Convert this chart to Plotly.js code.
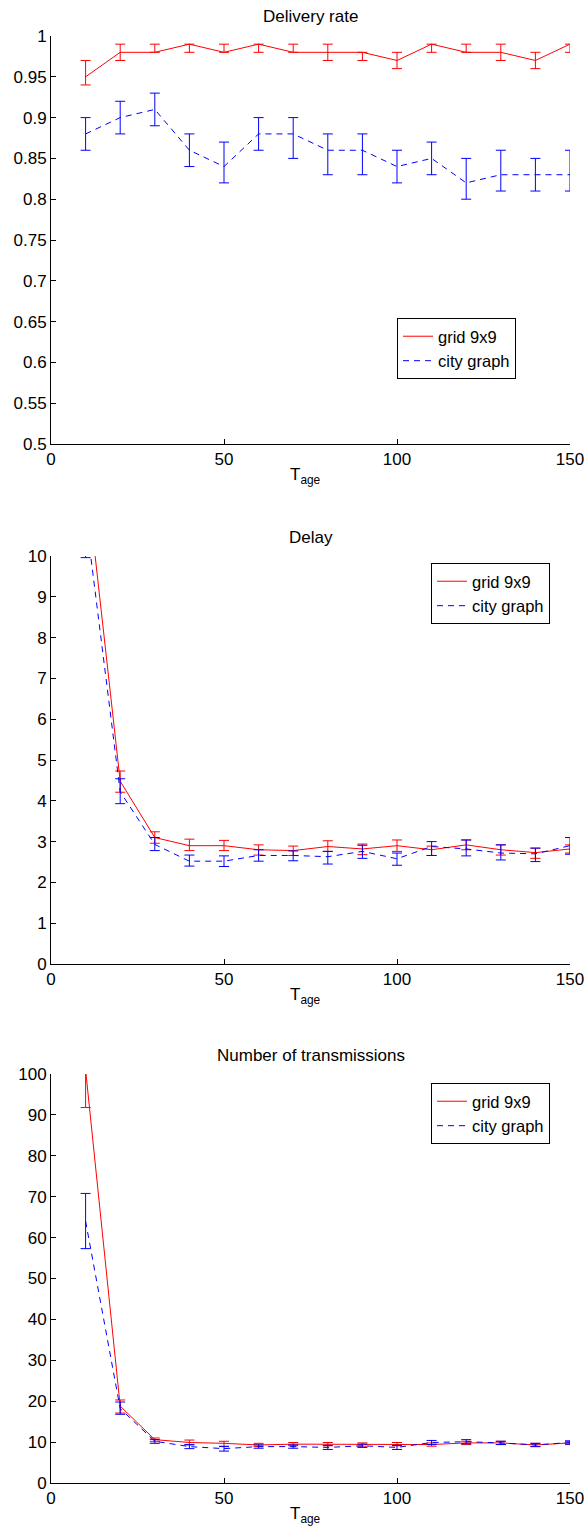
<!DOCTYPE html>
<html>
<head>
<meta charset="utf-8">
<script src="https://cdn.plot.ly/plotly-3.0.1.min.js"></script>
<style>html,body{margin:0;padding:0;background:#fff;}#chart{width:587px;height:1532px;}</style>
</head>
<body>
<div id="chart"></div>
<script>
// ---------- data ----------
const tage = [10,20,30,40,50,60,70,80,90,100,110,120,130,140,150];
const seriesNames = ["grid 9x9", "city graph"];
const panelTitles = ["Delivery rate", "Delay", "Number of transmissions"];
const xLabel = "T<sub>age</sub>";

// Delivery rate
const gridRate   = [0.95,0.98,0.98,0.99,0.98,0.99,0.98,0.98,0.98,0.97,0.99,0.98,0.98,0.97,0.99];
const gridRateHi = [0.97,0.99,0.99,0.99,0.99,0.99,0.99,0.99,0.98,0.98,0.99,0.99,0.99,0.98,0.99];
const gridRateLo = [0.94,0.97,0.98,0.98,0.98,0.98,0.98,0.97,0.97,0.96,0.98,0.98,0.97,0.96,0.98];
const cityRate   = [0.88,0.90,0.91,0.86,0.84,0.88,0.88,0.86,0.86,0.84,0.85,0.82,0.83,0.83,0.83];
const cityRateHi = [0.90,0.92,0.93,0.88,0.87,0.90,0.90,0.88,0.88,0.86,0.87,0.85,0.86,0.85,0.86];
const cityRateLo = [0.86,0.88,0.89,0.84,0.82,0.86,0.85,0.83,0.83,0.82,0.83,0.80,0.81,0.81,0.81];

// Delay
const gridDelay   = [12.1,4.48,3.10,2.90,2.90,2.80,2.78,2.88,2.82,2.90,2.80,2.92,2.80,2.73,2.82];
const gridDelayHi = [13.0,4.73,3.24,3.06,3.03,2.92,2.89,3.02,2.94,3.04,2.89,3.04,2.92,2.84,2.92];
const gridDelayLo = [11.2,4.21,2.96,2.78,2.78,2.67,2.66,2.76,2.68,2.76,2.66,2.80,2.67,2.59,2.72];
const cityDelay   = [11.0,4.22,2.93,2.52,2.52,2.66,2.66,2.63,2.76,2.58,2.88,2.82,2.72,2.70,2.90];
const cityDelayHi = [12.0,4.54,3.10,2.67,2.65,2.80,2.77,2.76,2.91,2.72,3.00,3.04,2.92,2.84,3.10];
const cityDelayLo = [9.96,3.93,2.78,2.40,2.39,2.52,2.53,2.45,2.59,2.42,2.66,2.65,2.55,2.51,2.69];

// Number of transmissions
const gridTx   = [101,18.8,10.6,9.9,9.7,9.3,9.5,9.5,9.4,9.5,9.4,9.8,9.8,9.3,9.8];
const gridTxHi = [110,20.3,11.0,10.5,10.2,9.7,9.9,9.9,9.8,9.9,9.8,10.2,10.2,9.7,10.2];
const gridTxLo = [91.8,17.1,10.1,9.3,9.0,8.9,9.1,9.1,9.0,9.1,9.0,9.4,9.4,8.9,9.4];
const cityTx   = [64,18.2,10.2,8.9,8.4,8.9,8.9,8.7,9.1,8.7,9.9,10.1,9.8,9.3,9.9];
const cityTxHi = [70.8,19.8,10.6,9.4,8.9,9.3,9.3,9.2,9.5,9.2,10.4,10.6,10.2,9.7,10.3];
const cityTxLo = [57.3,16.8,9.7,8.4,7.8,8.5,8.5,8.2,8.7,8.2,9.4,9.6,9.4,8.9,9.5];

// tick labels
const xTicks = [0,50,100,150];
const xTickText = ["0","50","100","150"];
const rateTicks = [0.5,0.55,0.6,0.65,0.7,0.75,0.8,0.85,0.9,0.95,1];
const rateTickText = ["0.5","0.55","0.6","0.65","0.7","0.75","0.8","0.85","0.9","0.95","1"];
const delayTicks = [0,1,2,3,4,5,6,7,8,9,10];
const delayTickText = ["0","1","2","3","4","5","6","7","8","9","10"];
const txTicks = [0,10,20,30,40,50,60,70,80,90,100];
const txTickText = ["0","10","20","30","40","50","60","70","80","90","100"];

// ---------- build ----------
const W = 587, H = 1532;
const FONT = "Liberation Sans, Arial, Helvetica, sans-serif";
const FS = 17;
const RED = "#ff0000", BLUE = "#0000ff";
const py = p => 1 - p / H;
const px = p => p / W;

function trace(y, hi, lo, name, color, dash, ax, lg) {
  return {
    x: tage, y: y, name: name, type: "scatter", mode: "lines",
    xaxis: "x" + ax, yaxis: "y" + ax, legend: lg, showlegend: true,
    line: {color: color, width: 1, dash: dash},
    error_y: {type: "data", symmetric: false,
      array: hi.map((v, i) => v - y[i]),
      arrayminus: lo.map((v, i) => y[i] - v),
      color: color, thickness: 1, width: 5}
  };
}

const DASH = "6px,5px";
const data = [
  trace(gridRate, gridRateHi, gridRateLo, seriesNames[0], RED, "solid", "", "legend"),
  trace(cityRate, cityRateHi, cityRateLo, seriesNames[1], BLUE, DASH, "", "legend"),
  trace(gridDelay, gridDelayHi, gridDelayLo, seriesNames[0], RED, "solid", "2", "legend2"),
  trace(cityDelay, cityDelayHi, cityDelayLo, seriesNames[1], BLUE, DASH, "2", "legend2"),
  trace(gridTx, gridTxHi, gridTxLo, seriesNames[0], RED, "solid", "3", "legend3"),
  trace(cityTx, cityTxHi, cityTxLo, seriesNames[1], BLUE, DASH, "3", "legend3")
];

const xDom = [px(51), px(570)];
const panels = [
  {top: 36, bottom: 444, range: [0.5, 1], tv: rateTicks, tt: rateTickText},
  {top: 556, bottom: 964, range: [0, 10], tv: delayTicks, tt: delayTickText},
  {top: 1074, bottom: 1483, range: [0, 100], tv: txTicks, tt: txTickText}
];

const axBase = {
  showline: true, linecolor: "#000", linewidth: 1, ticks: "inside", ticklen: 5,
  tickwidth: 1, tickcolor: "#000", showgrid: false, zeroline: false,
  tickfont: {family: FONT, size: FS, color: "#000"}, mirror: false, fixedrange: true
};

const layout = {
  width: W, height: H, margin: {l: 0, r: 0, t: 0, b: 0},
  paper_bgcolor: "#fff", plot_bgcolor: "#fff", showlegend: true,
  font: {family: FONT, size: FS, color: "#000"},
  annotations: []
};

const legendPos = [[397, 318], [431, 563], [431, 1083]];
panels.forEach((p, i) => {
  const s = i === 0 ? "" : String(i + 1);
  layout["xaxis" + s] = Object.assign({}, axBase, {
    domain: xDom, range: [0, 150], tickvals: xTicks, ticktext: xTickText,
    anchor: "y" + s
  });
  layout["yaxis" + s] = Object.assign({}, axBase, {
    domain: [py(p.bottom), py(p.top)], range: p.range, tickvals: p.tv, ticktext: p.tt,
    anchor: "x" + s
  });
  layout["legend" + s] = {
    x: px(legendPos[i][0]), y: py(legendPos[i][1]), xanchor: "left", yanchor: "top",
    xref: "paper", yref: "paper",
    bgcolor: "#fff", bordercolor: "#000", borderwidth: 1,
    font: {family: FONT, size: 16.5, color: "#000"}, tracegroupgap: 0
  };
  layout.annotations.push({
    text: panelTitles[i], xref: "paper", yref: "paper",
    x: (xDom[0] + xDom[1]) / 2, y: py(p.top - 19), xanchor: "center", yanchor: "middle",
    showarrow: false, font: {family: FONT, size: FS, color: "#000"}
  });
  layout.annotations.push({
    text: xLabel, xref: "paper", yref: "paper",
    x: (xDom[0] + xDom[1]) / 2 - px(5), y: py(p.bottom + 32), xanchor: "center", yanchor: "middle",
    showarrow: false, font: {family: FONT, size: FS, color: "#000"}
  });
});

Plotly.newPlot("chart", data, layout, {displayModeBar: false, staticPlot: true});
</script>
</body>
</html>
